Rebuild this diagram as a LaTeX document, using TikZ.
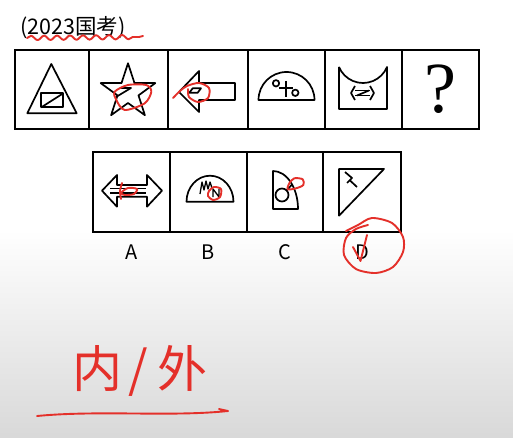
\documentclass[tikz,border=0pt]{standalone}
\usepackage{fontspec}
\newfontfamily\cjk{Noto Sans CJK SC}
\newfontfamily\qfont{Liberation Serif}
\usetikzlibrary{positioning,decorations.pathmorphing}
\definecolor{ink}{RGB}{228,48,42}
\tikzset{
  cell/.style={draw,line width=1.8pt,minimum height=79pt,inner sep=0pt},
  fig/.style={line width=1.7pt,line join=round},
  pen/.style={draw=ink,line width=1.9pt,line cap=round,line join=round},
  lbl/.style={font=\cjk\fontsize{20}{20}\selectfont}
}
\begin{document}
\begin{tikzpicture}[x=1pt,y=1pt]
  \useasboundingbox (0,0) rectangle (513,437);
  % page background
  \fill[white] (0,207) rectangle (513,437);
  \shade[top color=white,bottom color=black!15] (0,0) rectangle (513,207);

  \node[anchor=west,font=\cjk\fontsize{21.5}{21.5}\selectfont,inner sep=0pt] (title) at (20,409) {(2023国考)};

  % question row
  \node[cell,minimum width=74pt] (q1) at (52,347.5) {};
  \node[cell,minimum width=79pt] (q2) at (128.5,347.5) {};
  \node[cell,minimum width=80pt] (q3) at (208,347.5) {};
  \node[cell,minimum width=77pt] (q4) at (286.5,347.5) {};
  \node[cell,minimum width=77pt] (q5) at (363.5,347.5) {};
  \node[cell,minimum width=77pt,font=\qfont\fontsize{72}{72}\selectfont] (q6) at (440.5,347.5) {?};

  % answer row
  \node[cell,minimum width=77pt,minimum height=80pt] (a1) at (131.5,245) {};
  \node[cell,minimum width=77pt,minimum height=80pt] (a2) at (208.5,245) {};
  \node[cell,minimum width=76pt,minimum height=80pt] (a3) at (285,245) {};
  \node[cell,minimum width=78pt,minimum height=80pt] (a4) at (362,245) {};
  \node[lbl,below=8pt of a1] (la) {A};
  \node[lbl,below=8pt of a2] (lb) {B};
  \node[lbl,below=8pt of a3] (lc) {C};
  \node[lbl,below=8pt of a4] (ld) {D};

  % 1: triangle
  \draw[fig] (51.3,373) -- (27.3,323.7) -- (76.7,323.7) -- cycle;
  \draw[fig] (41.3,329.7) rectangle (63.3,343.7);
  \draw[fig] (41.3,329.7) -- (63.3,343.7);
  % 2: star
  \draw[fig] (128,373.7) -- (134.5,353.9) -- (155.3,353.9) -- (138.5,341.6) -- (144.9,321.8)
    -- (128,334) -- (111.1,321.8) -- (117.5,341.6) -- (100.7,353.9) -- (121.5,353.9) -- cycle;
  \draw[fig] (120,349) -- (131,349) -- (116,340);
  % 3: arrow
  \draw[fig] (179,345) -- (199,366) -- (199,354) -- (235,354) -- (235,337) -- (199,337) -- (199,325) -- cycle;
  \draw[fig] (189.3,344.3) -- (197.7,344.3) -- (201,348.7) -- (192.7,348.7) -- cycle;
  % 4: half disc
  \draw[fig] (258.5,337) arc[start angle=180,end angle=0,radius=28] -- cycle;
  \draw[fig] (286,356) -- (286,340);
  \draw[fig] (279,349.3) -- (293,349.3);
  \draw[fig] (276,353.7) circle[radius=3.2];
  \draw[fig] (295.3,344.2) circle[radius=3.2];
  % 5: bowl
  \draw[fig] (339,370) -- (339,328) -- (387,328) -- (387,370) arc[start angle=-22.6,end angle=-157.4,radius=26];
  \draw[fig] (355,346.5) -- (370,346.5) (355,341.5) -- (370,341.5);
  \draw[fig] (355,351) -- (351,344) -- (355,337) (370,351) -- (374,344) -- (370,337);
  \draw[fig] (357,341.5) -- (369,346.5);

  % A: double arrow
  \draw[fig] (102,246.3) -- (117,262) -- (117,252) -- (147,252) -- (147,262) -- (162,246.3)
    -- (147,230.3) -- (147,240.3) -- (117,240.3) -- (117,230.3) -- cycle;
  \draw[fig] (110,248.5) -- (146,248.5) (110,244) -- (146,244);
  % B: half disc with zigzag
  \draw[fig] (186.5,235.3) arc[start angle=180,end angle=0,x radius=23.5,y radius=26] -- cycle;
  \draw[fig,line width=1.3pt] (200,243) -- (202,255) -- (204,247) -- (206,256) -- (208,248) -- (210,255) -- (212,249);
  \draw[fig,line width=1.3pt] (213,240) -- (213,248) -- (219,240) -- (219,248);
  % C: quarter shape
  \draw[fig] (273,228) -- (273,266) arc[start angle=90,end angle=0,x radius=25,y radius=38] -- cycle;
  \draw[fig] (282,242) circle[radius=6.5];
  \draw[fig] (286.6,246.6) -- (292,252.4);
  % D: right triangle
  \draw[fig] (339,268) -- (384,268) -- (339,221.3) -- cycle;
  \draw[fig] (345,265) -- (352,259) -- (347,254);
  \draw[fig] (350,256.5) -- (357,250);

  % red marks
  \draw[pen,decorate,decoration={snake,segment length=13pt,amplitude=2.2pt}] (27,399) -- (139,400);
  \draw[pen] (139,400) -- (143,401);
  \draw[pen] plot[smooth cycle] coordinates {(114.7,345.3) (128,352) (146.3,352) (151.3,345.3) (144.7,333.7) (124.7,327) (116.3,337)};
  \draw[pen] plot[smooth] coordinates {(173,339) (180,346) (187,351) (199,354) (209,349) (208,339) (198,335) (189,340) (188,348)};
  \draw[pen] plot[smooth] coordinates {(122,254) (120,246) (121,238)};
  \draw[pen] plot[smooth cycle] coordinates {(121,244) (128,249) (137,248) (134,243) (125,242)};
  \draw[pen] plot[smooth cycle] coordinates {(209,246) (214,250) (221,248) (220,240) (213,237) (208,241)};
  \draw[pen] plot[smooth cycle] coordinates {(289.3,253.7) (294.3,258.7) (302.7,257.7) (303.3,252) (296,248.7) (287.7,247.7)};
  \draw[pen] plot[smooth] coordinates {(346,206) (358,212) (372,219) (392,214) (403,200) (403,185) (393,170) (376,164) (356,168) (344,182) (346,199) (356,208) (368,212)};
  \draw[pen] (353,190) -- (360.5,176) -- (367,202);

  % handwriting
  \node[text=ink,font=\cjk\fontsize{50}{50}\selectfont] (note) at (140,66) {内\hspace{6pt}/\hspace{10pt}外};
  \draw[pen] (37,21) .. controls (100,27) and (170,20) .. (228,26) -- (219,28);
\end{tikzpicture}
\end{document}
